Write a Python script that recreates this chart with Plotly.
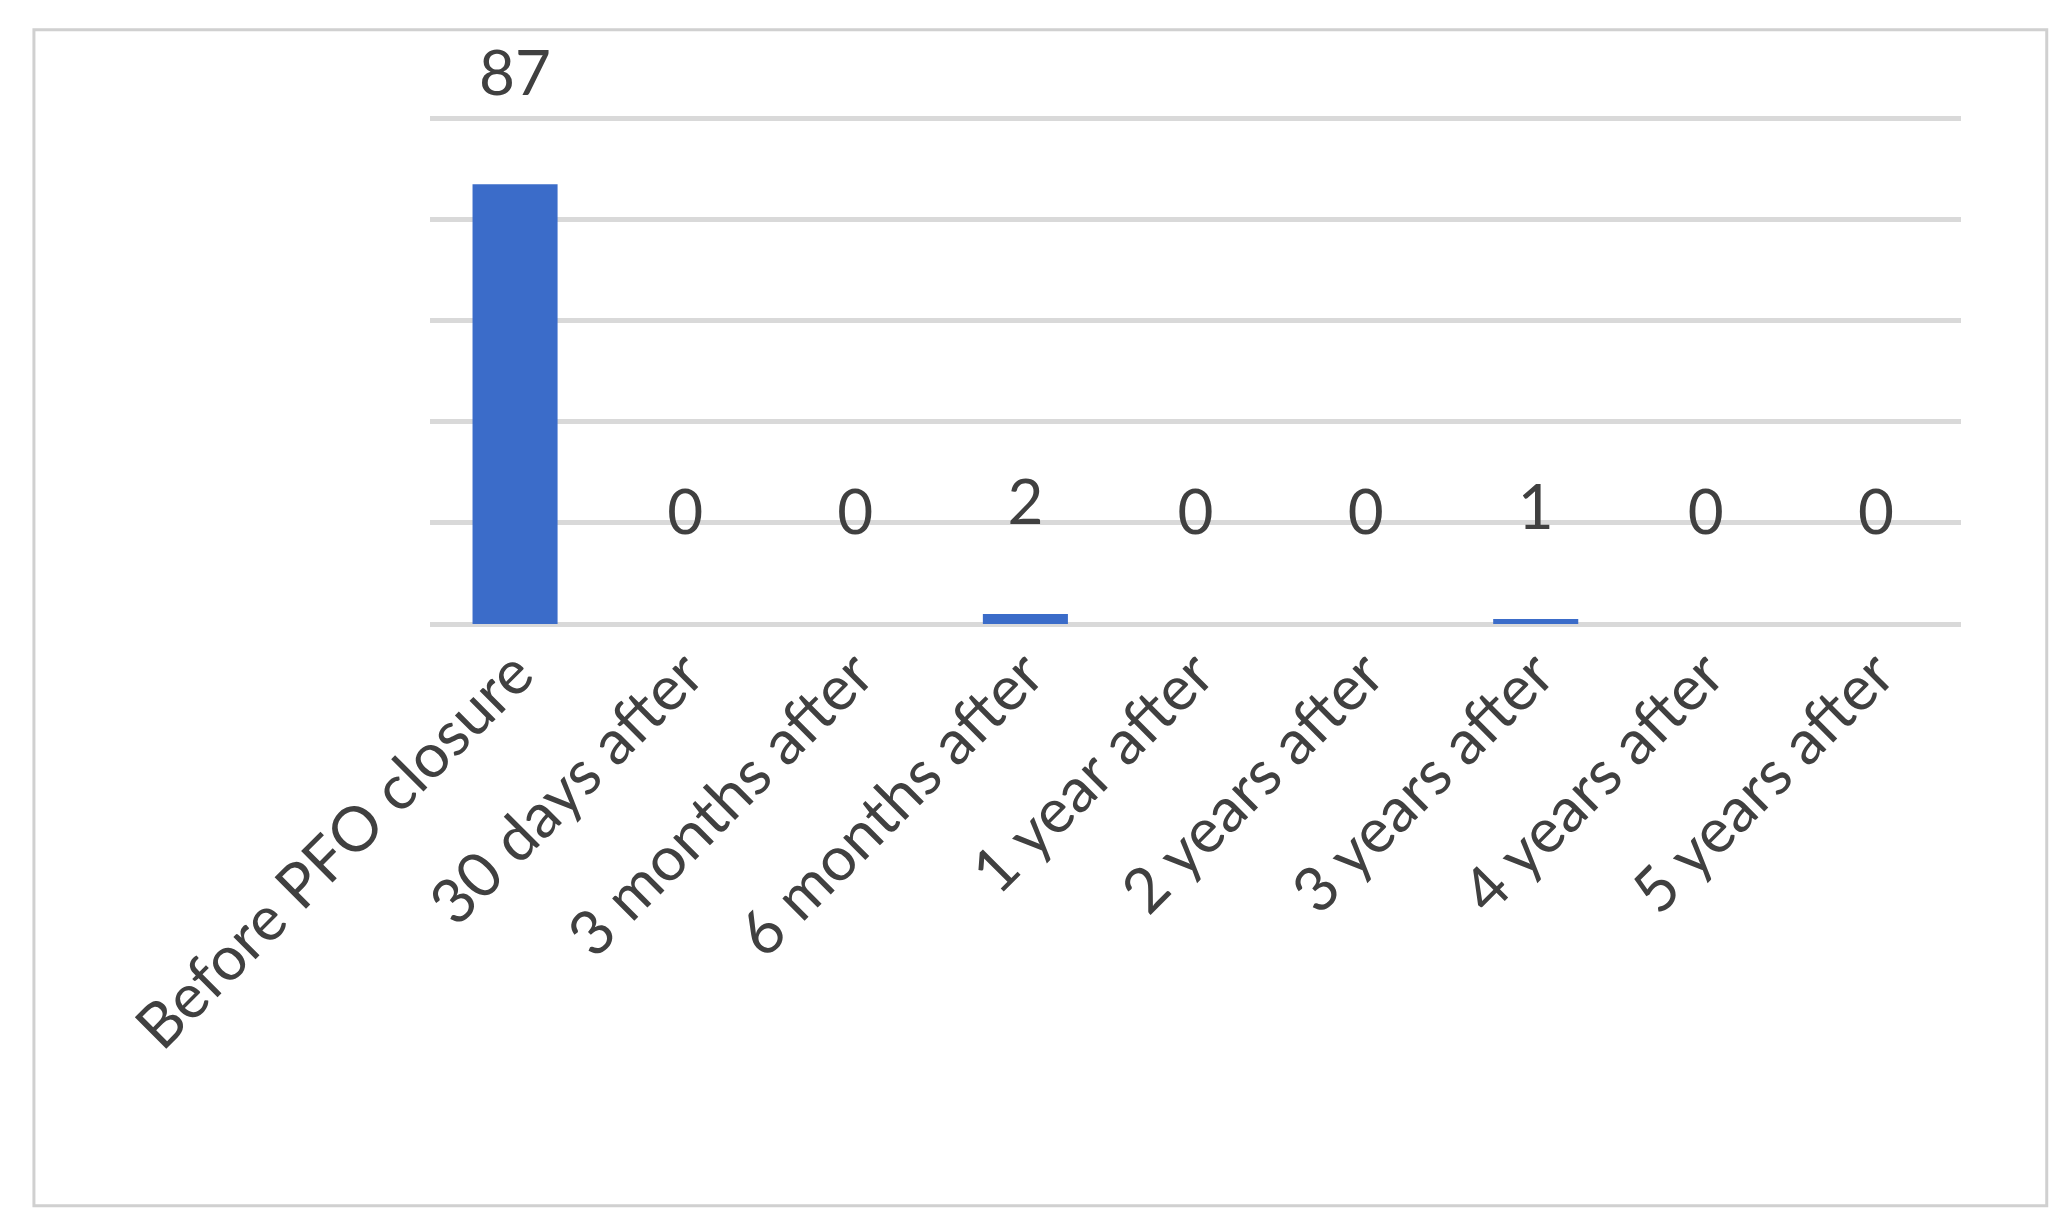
import plotly.graph_objects as go

categories = ['Before PFO closure', '30 days after', '3 months after', '6 months after',
              '1 year after', '2 years after', '3 years after', '4 years after', '5 years after']
values = [87, 0, 0, 2, 0, 0, 1, 0, 0]

fig = go.Figure(go.Bar(
    x=categories, y=values, width=0.5,
    marker=dict(color='#3b6cc9', line=dict(width=0)),
    texttemplate='%{y}<br><span style="font-size:30px"> </span>',
    textposition='outside', cliponaxis=False,
    textfont=dict(size=62, color='#404040', family='Lato'),
))

fig.update_layout(
    width=2065, height=1216,
    paper_bgcolor='white', plot_bgcolor='white',
    margin=dict(l=422, r=112, t=108, b=600),
    showlegend=False,
    font=dict(family='Lato', color='#404040'),
    xaxis=dict(tickangle=-45, tickfont=dict(size=62, color='#404040'), showline=False),
    yaxis=dict(range=[0, 100.5], dtick=20, showticklabels=False, gridcolor='#d9d9d9',
               gridwidth=5, zeroline=True, zerolinecolor='#d9d9d9', zerolinewidth=5),
    shapes=[dict(type='rect', xref='paper', yref='paper', x0=-0.2587, x1=1.056,
                 y0=-1.145, y1=1.17, line=dict(color='#d0d0d0', width=3))],
)

fig.write_html("out.html")
